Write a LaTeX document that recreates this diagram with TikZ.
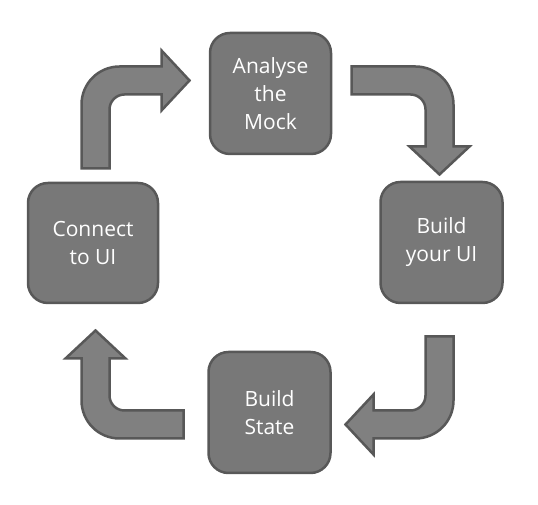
\documentclass[tikz,border=0pt]{standalone}
\usepackage{fontspec}
\setmainfont{Open Sans}
\usepackage{xcolor}
\definecolor{cbox}{RGB}{120,120,120}
\definecolor{carrow}{RGB}{128,128,128}
\definecolor{cline}{RGB}{88,88,88}

\begin{document}
\begin{tikzpicture}[x=1pt,y=1pt,
	stepbox/.style={draw=cline,line width=2.5pt,fill=cbox,rounded corners=20pt,
		minimum width=121pt,minimum height=121pt,align=center,text=white,
		font=\fontsize{21}{28}\selectfont,inner sep=0pt},
	bendarrow/.style={draw=cline,line width=2.5pt,fill=carrow}]
\useasboundingbox (0,0) rectangle (538,505);

\node[stepbox] (mock) at (270.5,411.5) {Analyse\\the\\Mock};
\node[stepbox,minimum width=122pt] (ui) at (441.5,262.5) {Build\\your UI};
\node[stepbox,minimum width=122pt] (state) at (269.5,92.5) {Build\\State};
\node[stepbox,minimum width=130pt,minimum height=120pt] (connect) at (93,262) {Connect\\to UI};

% one bent block arrow, turned round the middle four times
\coordinate (mid) at (267.5,252.5);
\foreach \ang in {0,-90,-180,-270}{
	\begin{scope}[shift={(mid)},rotate=\ang]
		\draw[bendarrow] (-158,84) -- (-186,84) -- (-186,148)
			arc[start angle=180,end angle=90,radius=38] -- (-106,186) -- (-106,202)
			-- (-78,172) -- (-106,142) -- (-106,158) -- (-143,158)
			arc[start angle=90,end angle=180,radius=15] -- cycle;
	\end{scope}
}

\end{tikzpicture}
\end{document}
